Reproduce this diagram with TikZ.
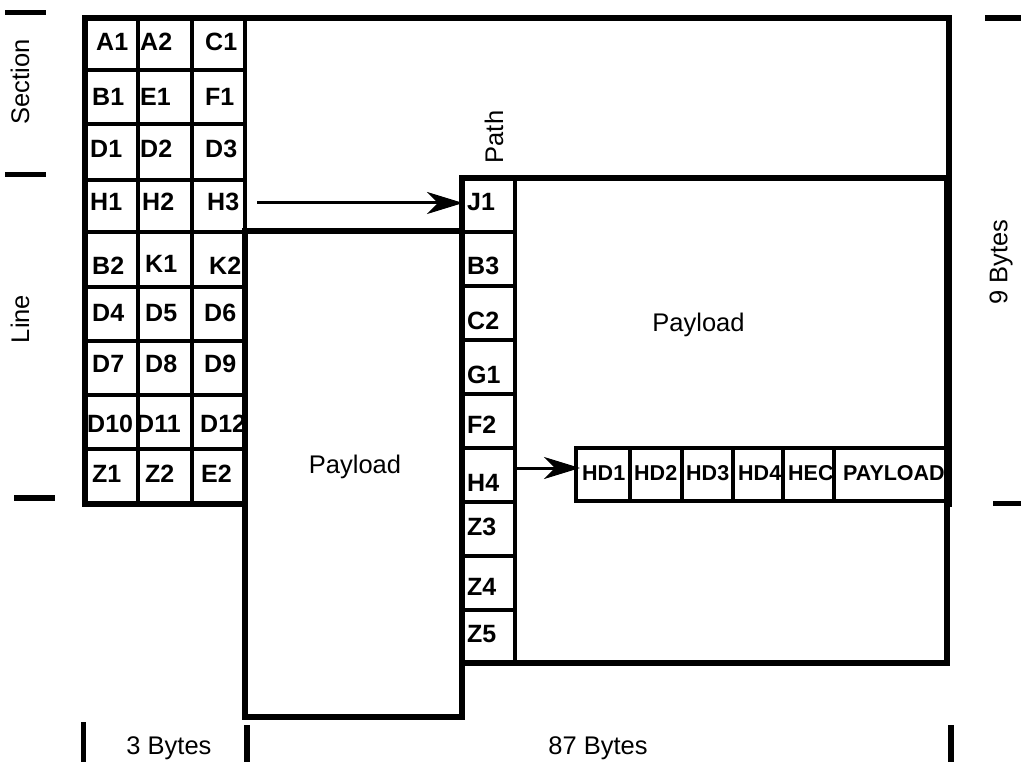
\documentclass[tikz,border=0pt]{standalone}
\usepackage{fontspec}
\setmainfont{Liberation Sans}
\usetikzlibrary{arrows.meta}
\begin{document}
\begin{tikzpicture}[x=1pt,y=-1pt,
  frame/.style={line width=6pt},
  gridline/.style={line width=4pt},
  tick/.style={line width=5.5pt},
  bl/.style={font=\fontsize{25}{29}\selectfont\bfseries, anchor=base west, inner sep=0pt},
  hl/.style={font=\fontsize{21.5}{25}\selectfont\bfseries, anchor=base west, inner sep=0pt},
  rl/.style={font=\fontsize{25.5}{30}\selectfont, inner sep=0pt},
  cell/.style={draw, gridline, rectangle, inner sep=0pt, outer sep=0pt, anchor=north west},
  arr/.style={-{Stealth[length=36pt,width=22pt,inset=11pt]}, line width=3pt},
]
\useasboundingbox (0,0) rectangle (1021,762);

% left block cells
\foreach \t/\h [count=\r] in {18/52,70/54.5,124.5/55.5,180/52,232/55,287/54,341/54,395/54,449/55}{
  \foreach \l [count=\c] in {84.5,138,191.5}{
    \node[cell, minimum width=53.5, minimum height=\h] (L-\r-\c) at (\l,\t) {};
  }
}
% left block labels
\node[bl] (A1) at (96,51) {A1};
\node[bl] (A2) at (140,51) {A2};
\node[bl] (C1) at (205,51) {C1};
\node[bl] (B1) at (92,106) {B1};
\node[bl] (E1) at (140,106) {E1};
\node[bl] (F1) at (205,106) {F1};
\node[bl] (D1) at (90,158) {D1};
\node[bl] (D2) at (140,158) {D2};
\node[bl] (D3) at (205,158) {D3};
\node[bl] (H1) at (90,211) {H1};
\node[bl] (H2) at (142,211) {H2};
\node[bl] (H3) at (207,211) {H3};
\node[bl] (B2) at (92,275) {B2};
\node[bl] (K1) at (145,273) {K1};
\node[bl] (K2) at (209,275) {K2};
\node[bl] (D4) at (92,322) {D4};
\node[bl] (D5) at (145,322) {D5};
\node[bl] (D6) at (204,322) {D6};
\node[bl] (D7) at (92,373) {D7};
\node[bl] (D8) at (145,373) {D8};
\node[bl] (D9) at (204,373) {D9};
\node[bl] (D10) at (87,432) {D10};
\node[bl] (D11) at (136,432) {D11};
\node[bl] (D12) at (200,432) {D12};
\node[bl] (Z1) at (92,482) {Z1};
\node[bl] (Z2) at (145,482) {Z2};
\node[bl] (E2) at (201,482) {E2};

% big frame
\draw[frame] (84.5,18) rectangle (949,504);

% payload (left)
\draw[frame, fill=white] (245,231) rectangle (462,717);
\node[rl, anchor=base] (pl1) at (355,473) {Payload};

% path frame
\fill[white] (462,178) rectangle (947,663);
\foreach \n [count=\i from 0] in {J1,B3,C2,G1,F2,H4,Z3,Z4,Z5}{
  \node[cell, minimum width=53, minimum height=54] (P-\n) at (462,{178+54*\i}) {};
}
\foreach \n/\b in {J1/211,B3/275,C2/330,G1/383,F2/433,H4/491,Z3/535,Z4/595,Z5/642}{
  \node[bl] (T-\n) at (467,\b) {\n};
}
\draw[frame] (462,178) rectangle (947,663);
\node[rl, anchor=base] (pl2) at (698.5,332) {Payload};

% cell row
\foreach \a/\w/\t/\tx in {576/54/HD1/582,630/52/HD2/634,682/51/HD3/686,733/50/HD4/738,783/51/HEC/788,834/113/PAYLOAD/843}{
  \node[cell, fill=white, minimum width=\w, minimum height=53] (\t) at (\a,448) {};
  \node[hl] at (\tx,480) {\t};
}
\draw[frame] (947,440) -- (947,506);

% arrows
\draw[arr] ([xshift=12pt,yshift=3pt]L-4-3.east) -- ([xshift=1pt,yshift=2pt]P-J1.west);
\draw[arr] ([yshift=7pt]P-H4.east) -- ([xshift=4pt,yshift=6.5pt]HD1.west);

% outside labels
\node[rl, rotate=90] (sec) at (20,82) {Section};
\node[rl, rotate=90] (lin) at (20,319) {Line};
\node[rl, rotate=90] (pth) at (494,137) {Path};
\node[rl, rotate=90] (nb) at (1001,262) {9 Bytes};
\node[rl, anchor=base] (tb) at (169,754) {3 Bytes};
\node[rl, anchor=base] (eb) at (598,754) {87 Bytes};

% ticks
\draw[tick] (5,12.5) -- (46,12.5);
\draw[tick] (5,174.5) -- (46,174.5);
\draw[tick] (14,498) -- (55,498);
\draw[tick] (985,18) -- (1021,18);
\draw[tick] (993,503.5) -- (1021,503.5);
\draw[tick] (83.5,722) -- (83.5,762);
\draw[tick] (247,725) -- (247,762);
\draw[tick] (951,725) -- (951,762);
\end{tikzpicture}
\end{document}
